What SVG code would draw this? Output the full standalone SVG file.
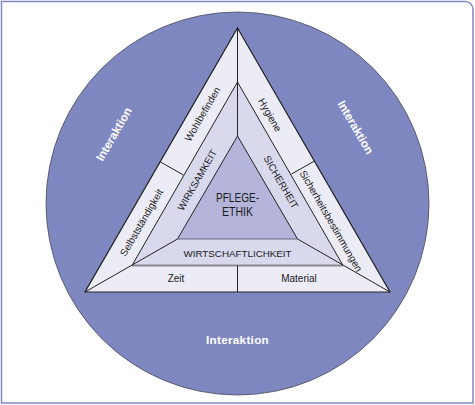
<svg xmlns="http://www.w3.org/2000/svg" width="475" height="405" viewBox="0 0 475 405">
<style>
.lbl{font-family:"Liberation Sans",Arial,sans-serif;font-size:10px;fill:#1a1a1a;text-anchor:middle;dominant-baseline:central}
.cap{font-family:"Liberation Sans",Arial,sans-serif;font-size:9.8px;fill:#1a1a1a;text-anchor:middle;dominant-baseline:central}
.int{font-family:"Liberation Sans",Arial,sans-serif;font-size:11.7px;font-weight:bold;fill:#ffffff;text-anchor:middle;dominant-baseline:central}
.core{font-family:"Liberation Sans",Arial,sans-serif;font-size:12.5px;fill:#1a1a1a;text-anchor:middle;dominant-baseline:central}
.edge{stroke:#222;stroke-width:1;fill:none}
</style>
<path d="M1.5,1.5 H465 A8,8 0 0 1 473,9.5 V403 H1.5 Z" fill="#ffffff" stroke="#8088c8" stroke-width="1.5"/>
<g id="circle">
<circle cx="237.5" cy="203.5" r="191.5" fill="#7f87c0" stroke="#4a4a5a" stroke-width="0.8"/>
<text class="int" x="237.5" y="339" letter-spacing="0.3">Interaktion</text>
<text class="int" x="113.5" y="134" transform="rotate(-60 113.5 134)">Interaktion</text>
<text class="int" x="356" y="127" transform="rotate(60 356 127)">Interaktion</text>
</g>
<g id="outer-triangle">
<polygon points="237.5,28 390,292 85,292" fill="#ececf6" stroke="#222" stroke-width="1.2"/>
<text class="lbl" x="202.5" y="114" transform="rotate(-60 202.5 114)">Wohlbefinden</text>
<text class="lbl" x="270" y="115" transform="rotate(60 270 115)">Hygiene</text>
<text class="lbl" x="141.5" y="222.5" transform="rotate(-60 141.5 222.5)">Selbstständigkeit</text>
<text class="lbl" x="331" y="221" transform="rotate(60 331 221)">Sicherheitsbestimmungen</text>
<text class="lbl" x="176" y="278.5">Zeit</text>
<text class="lbl" x="299" y="278.5">Material</text>
</g>
<g id="middle-triangle">
<polygon points="237.5,82 343,265.5 132,265.5" fill="#d9d9ee"/>
<text class="cap" x="197" y="180" transform="rotate(-60 197 180)">WIRKSAMKEIT</text>
<text class="cap" x="281" y="182" transform="rotate(60 281 182)">SICHERHEIT</text>
<text class="cap" x="237.5" y="253.3">WIRTSCHAFTLICHKEIT</text>
</g>
<g id="inner-triangle">
<polygon points="237.5,136 297.5,239 177.5,239" fill="#b5b5dc"/>
<text class="core" x="237.5" y="198" textLength="43" lengthAdjust="spacingAndGlyphs">PFLEGE-</text>
<text class="core" x="237.5" y="212" textLength="31" lengthAdjust="spacingAndGlyphs">ETHIK</text>
</g>
<g id="connectors">
<line x1="132" y1="265.5" x2="343" y2="265.5" stroke="#8a8a96" stroke-width="2"/>
<line x1="177.5" y1="239" x2="297.5" y2="239" stroke="#6a6a80" stroke-width="1"/>
<path class="edge" d="M132,265.5 L237.5,82 L343,265.5"/>
<path class="edge" d="M177.5,239 L237.5,136 L297.5,239"/>
<line class="edge" x1="237.5" y1="28" x2="237.5" y2="136"/>
<line class="edge" x1="85" y1="292" x2="177.5" y2="239"/>
<line class="edge" x1="390" y1="292" x2="297.5" y2="239"/>
<line class="edge" x1="237.5" y1="265.5" x2="237.5" y2="292"/>
<line class="edge" x1="160.5" y1="162" x2="183.5" y2="175"/>
<line class="edge" x1="314.5" y1="161" x2="291.5" y2="174"/>
</g>
</svg>
